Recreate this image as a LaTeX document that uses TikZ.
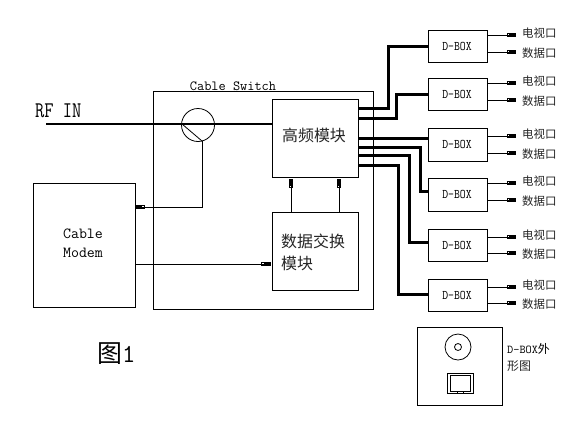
\documentclass[tikz,border=0pt]{standalone}
\usepackage{graphicx}
\usepackage{fontspec}
\setmonofont{Latin Modern Mono}
\newfontfamily\cjk{Noto Sans CJK SC}[Scale=1]
\usetikzlibrary{arrows.meta,calc}
\tikzset{
  thin line/.style={line width=0.8bp,black},
  box/.style={draw,thin line,rectangle,inner sep=0pt,outer sep=0pt},
  bus/.style={line width=3bp,black,line join=miter},
  sig/.style={thin line,-{Rectangle[open,length=3.5bp,width=4.5bp,line width=0.8bp]Rectangle[length=6bp,width=3.2bp]}},
  mono/.style={font=\ttfamily\fontsize{#1}{#1}\selectfont,inner sep=0pt},
  zh/.style={font=\cjk\fontsize{#1}{#1}\selectfont,inner sep=0pt,text=black!85},
}
\begin{document}
\begin{tikzpicture}[x=1bp,y=-1bp]
\useasboundingbox[fill=white] (0,0) rectangle (568,422);
% main boxes
\node[box,minimum width=220.5bp,minimum height=218bp] (sw) at (263.25,200) {};
\node[box,minimum width=86bp,minimum height=78bp] (hf) at (315,138) {};
\node[box,minimum width=86bp,minimum height=78bp] (dx) at (315,251) {};
\node[box,minimum width=102bp,minimum height=124bp] (cm) at (84,245) {};
\node[mono=14,anchor=base] (swl) at (233,90) {Cable Switch};
\node[zh=16] (hft) at (314,135) {高频模块};
\node[zh=16,anchor=west] (dxt1) at (281,241) {数据交换};
\node[zh=16,anchor=west] (dxt2) at (281,263) {模块};
\node[mono=15.5] (cmt1) at (83,234) {Cable};
\node[mono=15.5] (cmt2) at (83,253) {Modem};
\node[mono=18,anchor=base west] (rf) at (35,117) {\scalebox{1}[1.25]{RF IN}};
\node[draw,thin line,circle,minimum size=33bp,inner sep=0pt,outer sep=0pt] (sp) at (198,125) {};
\coordinate (rfs) at (46,124);
\coordinate (tap) at (202,141);
\draw[line width=2.2bp] (rfs) -- (hf.west |- rfs);
\draw[thin line] (182,124) -- (tap);
\draw[sig] (tap) -- (tap |- 0,207) -- (cm.east |- 0,207);
\draw[sig,shorten >=1.5bp] (cm.east |- 0,264) -- (dx.west |- 0,264);
\draw[sig,shorten >=1.5bp] (dx.north -| 291,0) -- (hf.south -| 291,0);
\draw[sig,shorten >=1.5bp] (dx.north -| 339,0) -- (hf.south -| 339,0);
% D-BOX units
\foreach \n/\yt/\yb/\pa/\pb in {1/30/62/35/52,2/78/110/83/100,3/128/161/136/153,4/178/211/183/200,5/229/261/237/253,6/279/311/287/303}{
  \node[box,minimum width=59bp,minimum height={(\yb-\yt)*1bp}] (d\n) at (457.5,{(\yt+\yb)/2}) {};
  \node[mono=11.5] (dl\n) at (457,{(\yt+\yb)/2}) {\scalebox{1}[1.15]{D-BOX}};
  \node[zh=11.5,anchor=west] (tv\n) at (522,{\pa-2}) {电视口};
  \node[zh=11.5,anchor=west] (da\n) at (522,{\pb+1}) {数据口};
  \coordinate (ea\n) at (516,\pa);
  \coordinate (eb\n) at (516,\pb);
  \draw[sig] (d\n.east |- ea\n) -- (ea\n);
  \draw[sig] (d\n.east |- eb\n) -- (eb\n);
}
% thick feeders
\draw[bus] (hf.east |- 0,108) -- (388,108) |- (d1.west);
\draw[bus] (hf.east |- 0,118) -- (396,118) |- (d2.west);
\draw[bus] (hf.east |- 0,138) -- (d3.west |- 0,138);
\draw[bus] (hf.east |- 0,147) -- (420,147) |- (d4.west |- 0,191);
\draw[bus] (hf.east |- 0,155) -- (409,155) |- (d5.west |- 0,242);
\draw[bus] (hf.east |- 0,165) -- (398,165) |- (d6.west |- 0,294);
% figure label
\node[inner sep=0pt,anchor=west] (fig) at (97,354) {\cjk\fontsize{25}{25}\selectfont 图\ttfamily\fontsize{26}{26}\selectfont 1};
% D-BOX outline
\node[box,minimum width=85bp,minimum height=78bp] (ext) at (459.5,366) {};
\node[draw,thin line,circle,minimum size=26bp,inner sep=0pt] (c1) at (458,347) {};
\node[draw,thin line,circle,minimum size=7bp,inner sep=0pt] (c2) at (458,347) {};
\node[box,minimum width=26bp,minimum height=20bp] (p1) at (460,383) {};
\node[box,minimum width=20bp,minimum height=16bp] (p2) at (460,383) {};
\draw[thin line] (457,391) -- (457,393) (463,391) -- (463,393);
\node[mono=12,anchor=west] (ext1) at (507,349) {D-BOX\cjk\fontsize{12}{12}\selectfont 外};
\node[zh=12,anchor=west] (ext2) at (507,366) {形图};
\end{tikzpicture}
\end{document}
